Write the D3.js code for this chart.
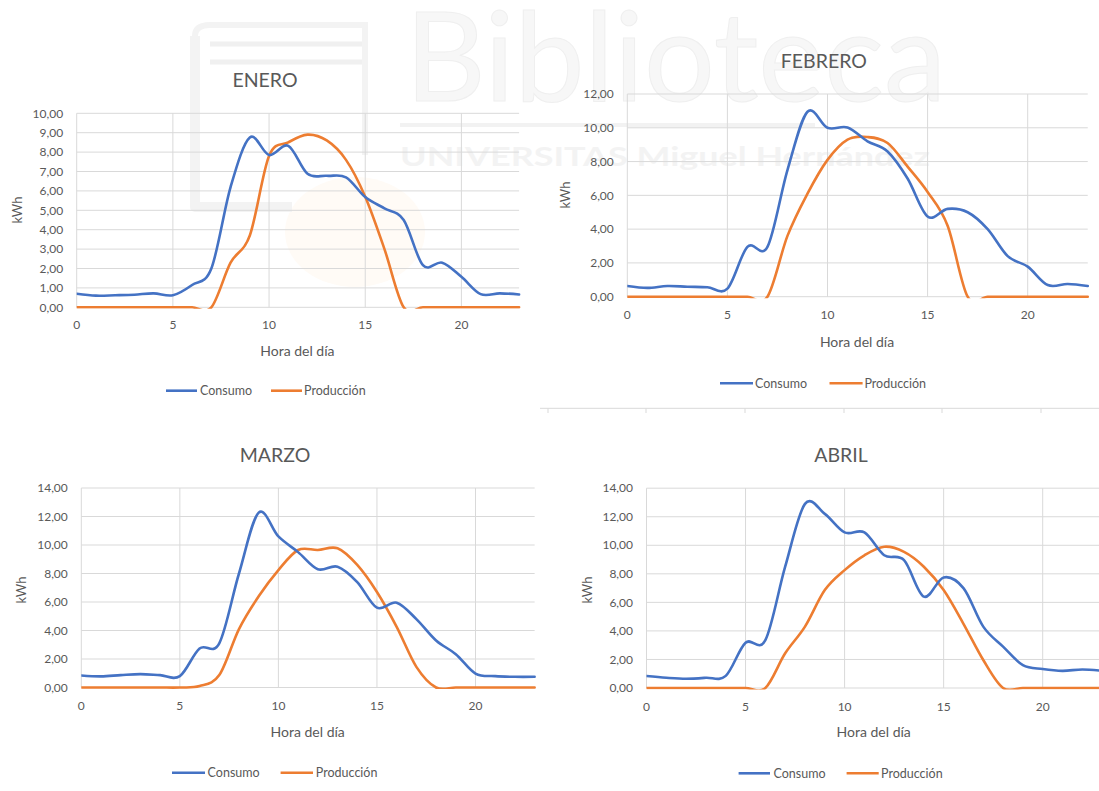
<!DOCTYPE html>
<html>
<head>
<meta charset="utf-8">
<script src="https://cdn.jsdelivr.net/npm/d3@7"></script>
<style>
  body { margin: 0; background: #ffffff; }
  svg { display: block; }
  text { font-family: Lato, "Open Sans", sans-serif; }
</style>
</head>
<body>
<svg id="chart" width="1099" height="791"></svg>
<script>
// Hourly energy profiles (kWh) for consumption and PV production, Jan–Apr
const horas = [0,1,2,3,4,5,6,7,8,9,10,11,12,13,14,15,16,17,18,19,20,21,22,23];

const consumoEnero     = [0.70,0.60,0.62,0.65,0.72,0.62,1.15,2.00,6.20,8.75,7.85,8.32,6.88,6.78,6.70,5.68,5.10,4.50,2.17,2.30,1.57,0.68,0.72,0.66];
const produccionEnero  = [0,0,0,0,0,0,0,0,2.30,3.70,7.80,8.50,8.90,8.60,7.60,5.70,3.00,0,0,0,0,0,0,0];

const consumoFebrero    = [0.63,0.52,0.63,0.59,0.56,0.48,2.95,2.95,7.50,10.95,10.00,10.02,9.20,8.60,7.00,4.75,5.20,5.00,4.00,2.40,1.78,0.69,0.75,0.63];
const produccionFebrero = [0,0,0,0,0,0,0,0,3.60,6.10,8.10,9.30,9.45,9.10,7.70,6.20,4.20,0,0,0,0,0,0,0];

const consumoMarzo    = [0.84,0.78,0.87,0.94,0.87,0.80,2.74,3.10,8.00,12.27,10.60,9.50,8.30,8.48,7.40,5.60,5.95,4.80,3.30,2.34,0.98,0.80,0.75,0.75];
const produccionMarzo = [0,0,0,0,0,0,0.10,0.87,4.10,6.40,8.24,9.65,9.65,9.77,8.60,6.70,4.26,1.45,0,0,0,0,0,0];

const consumoAbril    = [0.84,0.72,0.65,0.72,0.85,3.17,3.35,8.50,12.90,12.20,10.90,10.90,9.30,8.96,6.40,7.75,7.00,4.30,2.90,1.60,1.33,1.20,1.30,1.20];
const produccionAbril = [0,0,0,0,0,0,0,2.43,4.30,6.86,8.26,9.30,9.90,9.54,8.50,6.86,4.50,1.96,0,0,0,0,0,0];

const meses = ["ENERO", "FEBRERO", "MARZO", "ABRIL"];
const ticksX = [0, 5, 10, 15, 20];
const ticksYEnero = [0,1,2,3,4,5,6,7,8,9,10];
const ticksYFebrero = [0,2,4,6,8,10,12];
const ticksYMarzoAbril = [0,2,4,6,8,10,12,14];
const series = ["Consumo", "Producción"];

const COLOR_CONSUMO = "#4472C4";
const COLOR_PRODUCCION = "#ED7D31";
const GRID = "#d9d9d9";
const TEXT = "#595959";

const svg = d3.select("#chart");

// ---- Faint library watermark behind the charts ----
const wm = svg.append("g").attr("class", "watermark");
wm.append("ellipse").attr("cx", 355).attr("cy", 232).attr("rx", 70).attr("ry", 55)
  .attr("fill", "#fffbf6");
wm.append("path")
  .attr("d", "M195,36 L195,207 L292,207")
  .attr("fill", "none").attr("stroke", "#f3f3f3").attr("stroke-width", 10).attr("stroke-linejoin", "round");
wm.append("path")
  .attr("d", "M195,36 Q195,25 210,25 L365,25 L365,155")
  .attr("fill", "none").attr("stroke", "#f3f3f3").attr("stroke-width", 6);
wm.append("line").attr("x1", 210).attr("x2", 362).attr("y1", 44).attr("y2", 44)
  .attr("stroke", "#f0f0f0").attr("stroke-width", 5);
wm.append("line").attr("x1", 210).attr("x2", 362).attr("y1", 62).attr("y2", 62)
  .attr("stroke", "#f0f0f0").attr("stroke-width", 5);
wm.append("text").attr("x", 405).attr("y", 101)
  .attr("font-size", 125).attr("fill", "#f7f7f7").attr("stroke", "#efefef").attr("stroke-width", 1)
  .attr("textLength", 541).attr("lengthAdjust", "spacingAndGlyphs")
  .text("Biblioteca");
wm.append("line").attr("x1", 400).attr("x2", 815).attr("y1", 125).attr("y2", 125)
  .attr("stroke", "#f2f2f2").attr("stroke-width", 4);
wm.append("text").attr("x", 400).attr("y", 166)
  .attr("font-size", 27).attr("font-weight", 700).attr("fill", "#f3f3f3")
  .attr("textLength", 530).attr("lengthAdjust", "spacingAndGlyphs")
  .text("UNIVERSITAS Miguel Hernández");

// Descender of the preceding line of text
svg.append("text").attr("x", 76).attr("y", -6)
  .style("font-family", "'Liberation Serif', serif")
  .attr("font-size", 22).attr("fill", "#000").text("p");

// Rule of the following block
svg.append("line").attr("x1", 540).attr("x2", 1099).attr("y1", 408.3).attr("y2", 408.3)
  .attr("stroke", GRID).attr("stroke-width", 1);
[548, 646, 745, 844, 942, 1041].forEach(x => {
  svg.append("line").attr("x1", x).attr("x2", x).attr("y1", 408.3).attr("y2", 413)
    .attr("stroke", GRID).attr("stroke-width", 1);
});

// ---- Panels ----
const paneles = [
  { titulo: meses[0], consumo: consumoEnero, produccion: produccionEnero, ticksY: ticksYEnero,
    x0: 76.7, x20: 461.4, yTop: 113.3, yBot: 307.3,
    tituloPos: [265, 87], filaTicks: 325, ejeX: [297.4, 355.5], kwh: [17.5, 210],
    leyendaY: 390.7, leyenda: [[166, 197, 200], [271, 302, 304]] },
  { titulo: meses[1], consumo: consumoFebrero, produccion: produccionFebrero, ticksY: ticksYFebrero,
    x0: 627.3, x20: 1027.7, yTop: 94, yBot: 296.7,
    tituloPos: [823.8, 67.7], filaTicks: 315, ejeX: [857, 347], kwh: [565.5, 195],
    leyendaY: 383.3, leyenda: [[720, 753, 755], [829.5, 862.6, 864.4]] },
  { titulo: meses[2], consumo: consumoMarzo, produccion: produccionMarzo, ticksY: ticksYMarzoAbril,
    x0: 81.3, x20: 475.5, yTop: 488, yBot: 687.5,
    tituloPos: [275, 461.7], filaTicks: 706, ejeX: [307.7, 737], kwh: [21, 590],
    leyendaY: 772.7, leyenda: [[172, 205, 207.6], [280.6, 313, 315.8]] },
  { titulo: meses[3], consumo: consumoAbril, produccion: produccionAbril, ticksY: ticksYMarzoAbril,
    x0: 646.5, x20: 1042.7, yTop: 488.2, yBot: 688,
    tituloPos: [841, 461.7], filaTicks: 706.7, ejeX: [873.7, 736.7], kwh: [587, 590],
    leyendaY: 773.3, leyenda: [[738.6, 770, 773.5], [846.6, 878.7, 881]] }
];

const fmt = v => v.toFixed(2).replace(".", ",");

paneles.forEach((p, i) => {
  const g = svg.append("g").attr("class", "panel");
  const xMax = d3.max(horas);
  const x = d3.scaleLinear().domain([0, 20]).range([p.x0, p.x20]);
  const xRight = x(xMax);
  const y = d3.scaleLinear().domain([0, d3.max(p.ticksY)]).range([p.yBot, p.yTop]);

  // horizontal gridlines
  g.append("g").selectAll("line").data(p.ticksY).join("line")
    .attr("x1", x(0)).attr("x2", xRight)
    .attr("y1", d => y(d)).attr("y2", d => y(d))
    .attr("stroke", GRID).attr("stroke-width", 1);
  // vertical gridlines
  g.append("g").selectAll("line").data(ticksX).join("line")
    .attr("x1", d => x(d)).attr("x2", d => x(d))
    .attr("y1", y(d3.max(p.ticksY))).attr("y2", y(0))
    .attr("stroke", GRID).attr("stroke-width", 1);

  // y tick labels
  g.append("g").selectAll("text").data(p.ticksY).join("text")
    .attr("x", x(0) - 13.5).attr("y", d => y(d)).attr("dy", "0.35em")
    .attr("text-anchor", "end").attr("font-size", 12).attr("fill", TEXT)
    .text(fmt);
  // x tick labels
  g.append("g").selectAll("text").data(ticksX).join("text")
    .attr("x", d => x(d)).attr("y", p.filaTicks).attr("dy", "0.35em")
    .attr("text-anchor", "middle").attr("font-size", 12).attr("fill", TEXT)
    .text(d => d);

  // titles
  g.append("text").attr("x", p.tituloPos[0]).attr("y", p.tituloPos[1])
    .attr("text-anchor", "middle").attr("font-size", 19.5).attr("fill", TEXT)
    .text(p.titulo);
  g.append("text").attr("x", p.ejeX[0]).attr("y", p.ejeX[1])
    .attr("text-anchor", "middle").attr("font-size", 14).attr("fill", TEXT)
    .text("Hora del día");
  g.append("text")
    .attr("transform", `translate(${p.kwh[0]},${p.kwh[1]}) rotate(-90)`)
    .attr("dy", "0.35em").attr("text-anchor", "middle").attr("font-size", 13).attr("fill", TEXT)
    .text("kWh");

  // lines, clipped to the plot area
  const clipId = "clip" + i;
  svg.append("clipPath").attr("id", clipId).append("rect")
    .attr("x", x(0)).attr("y", y(d3.max(p.ticksY)) - 3)
    .attr("width", Math.min(xRight, 1099) - x(0) + 2).attr("height", y(0) - y(d3.max(p.ticksY)) + 4.5);
  const linea = d3.line()
    .x((d, k) => x(horas[k]))
    .y(d => y(d))
    .curve(d3.curveCardinal.tension(0));
  const lg = g.append("g").attr("clip-path", `url(#${clipId})`);
  lg.append("path").attr("d", linea(p.produccion))
    .attr("fill", "none").attr("stroke", COLOR_PRODUCCION).attr("stroke-width", 2.6)
    .attr("stroke-linejoin", "round").attr("stroke-linecap", "round");
  lg.append("path").attr("d", linea(p.consumo))
    .attr("fill", "none").attr("stroke", COLOR_CONSUMO).attr("stroke-width", 2.6)
    .attr("stroke-linejoin", "round").attr("stroke-linecap", "round");

  // legend
  const colores = [COLOR_CONSUMO, COLOR_PRODUCCION];
  p.leyenda.forEach((l, k) => {
    g.append("line").attr("x1", l[0]).attr("x2", l[1])
      .attr("y1", p.leyendaY).attr("y2", p.leyendaY)
      .attr("stroke", colores[k]).attr("stroke-width", 2.6);
    g.append("text").attr("x", l[2]).attr("y", p.leyendaY).attr("dy", "0.35em")
      .attr("font-size", 12.5).attr("fill", TEXT).text(series[k]);
  });
});
</script>
</body>
</html>
